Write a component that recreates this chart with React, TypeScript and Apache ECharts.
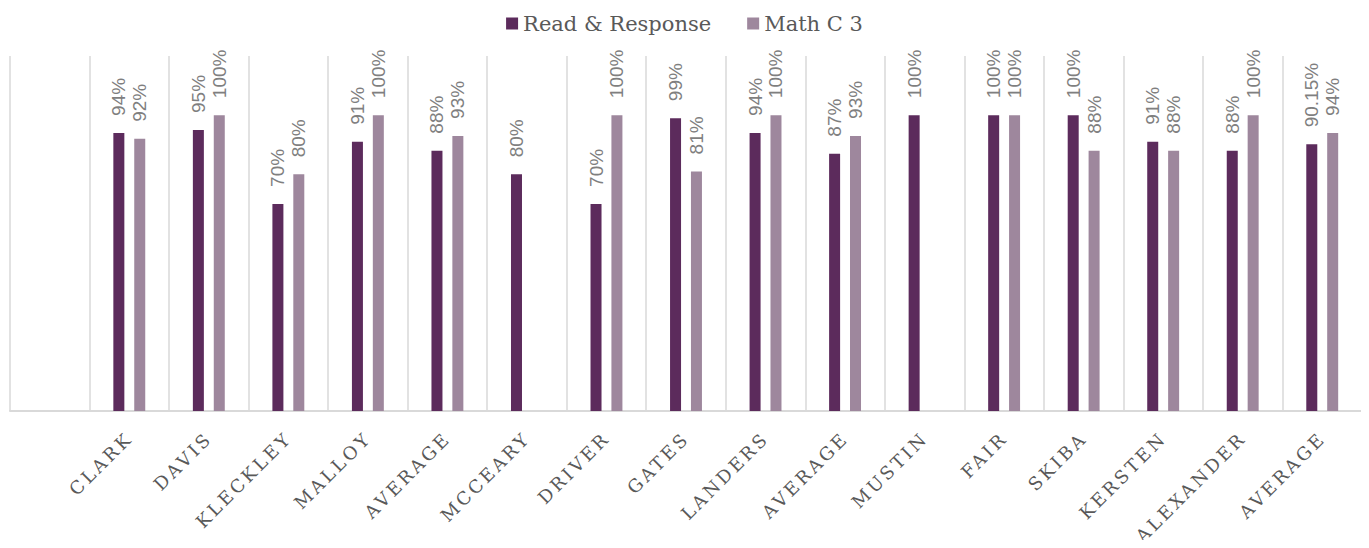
import React, { useEffect, useRef } from "react";
import * as echarts from "echarts";

const categories = ["", "CLARK", "DAVIS", "KLECKLEY", "MALLOY", "AVERAGE", "MCCEARY", "DRIVER", "GATES", "LANDERS", "AVERAGE", "MUSTIN", "FAIR", "SKIBA", "KERSTEN", "ALEXANDER", "AVERAGE"];
const readResponse = [null, 94, 95, 70, 91, 88, 80, 70, 99, 94, 87, 100, 100, 100, 91, 88, 90.15];
const mathC3 = [null, 92, 100, 80, 100, 93, null, 100, 81, 100, 93, null, 100, 88, 88, 100, 94];
const seriesNames = ["Read & Response", "Math C 3"];

export default function App() {
  const ref = useRef<HTMLDivElement>(null);
  useEffect(() => {
    if (!ref.current) return;
    const chart = echarts.init(ref.current, null, { renderer: "svg" });
    const label = {
      show: true,
      position: "top" as const,
      distance: 17,
      rotate: 90,
      align: "left" as const,
      verticalAlign: "middle" as const,
      color: "#7f7f7f",
      fontSize: 19,
      fontFamily: "Liberation Sans, Arial, sans-serif",
      formatter: (p: any) => (p.value == null ? "" : p.value + "%"),
    };
    chart.setOption({
      animation: false,
      legend: {
        top: 8,
        left: "center",
        itemWidth: 12,
        itemHeight: 12,
        itemGap: 36,
        icon: "rect",
        textStyle: { fontFamily: "DejaVu Serif", fontSize: 21, color: "#595959" },
        data: seriesNames,
      },
      grid: { left: 10, right: 7, top: 56, bottom: 137, containLabel: false },
      xAxis: {
        type: "category",
        data: categories,
        axisTick: { show: false },
        axisLine: { lineStyle: { color: "#d9d9d9", width: 2 } },
        splitLine: { show: true, lineStyle: { color: "#d9d9d9", width: 1.5 } },
        axisLabel: {
          interval: 0,
          rotate: 45,
          margin: 24,
          color: "#595959",
          fontSize: 18,
          fontFamily: "DejaVu Serif",
        },
      },
      yAxis: { type: "value", min: 0, max: 120, show: false, splitLine: { show: false } },
      series: [
        {
          name: seriesNames[0],
          type: "bar",
          data: readResponse,
          barWidth: 11,
          barGap: "90%",
          itemStyle: { color: "#5c2b5c" },
          label,
        },
        {
          name: seriesNames[1],
          type: "bar",
          data: mathC3,
          barWidth: 11,
          itemStyle: { color: "#9e879d" },
          label,
        },
      ],
    });
    const cats = new Set(categories.filter((c) => c));
    ref.current.querySelectorAll("text").forEach((t) => {
      if (cats.has((t.textContent || "").trim())) {
        (t as SVGTextElement).style.letterSpacing = "3px";
      }
    });
    return () => chart.dispose();
  }, []);
  return <div ref={ref} style={{ width: 1369, height: 548, margin: -8 }} />;
}
